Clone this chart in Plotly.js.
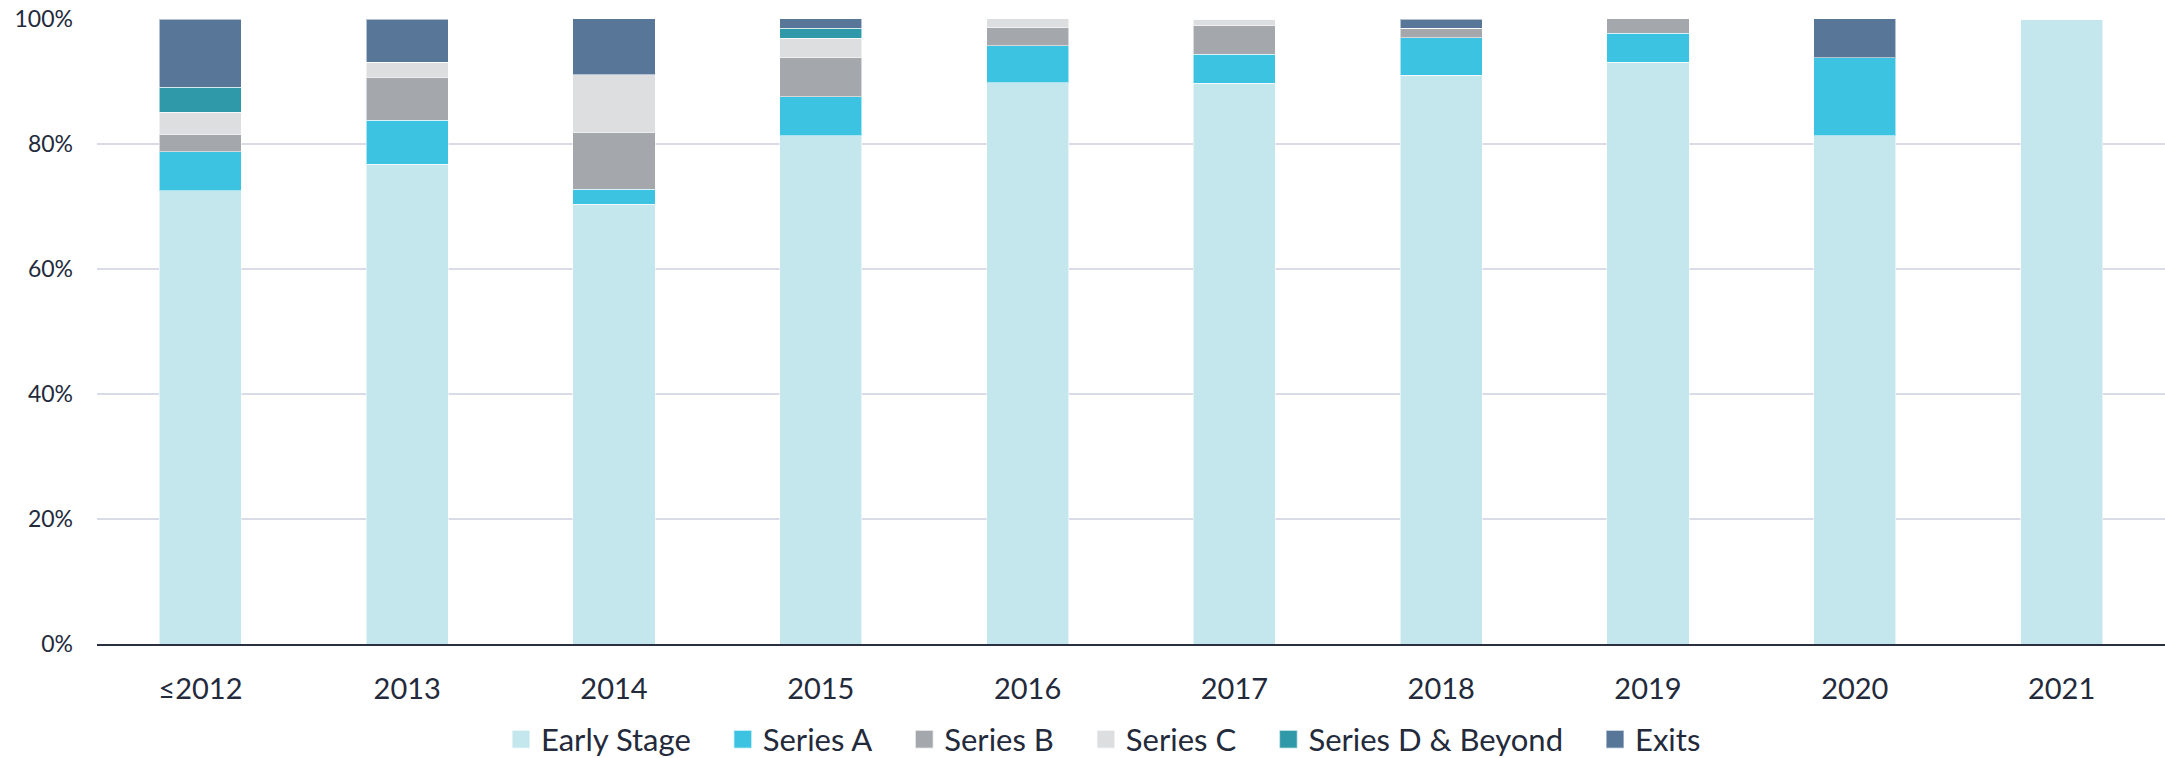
<!DOCTYPE html>
<html>
<head>
<meta charset="utf-8">
<script src="https://cdn.plot.ly/plotly-3.0.1.min.js"></script>
<style>
html,body{margin:0;padding:0;background:#fff;}
#chart{width:2165px;height:758px;}
</style>
</head>
<body>
<div id="chart"></div>
<script>
const categories = ["≤2012","2013","2014","2015","2016","2017","2018","2019","2020","2021"];
const earlyStage = [72.5, 76.8, 70.4, 81.3, 89.8, 89.7, 91.0, 93.1, 81.3, 100];
const seriesA    = [6.3, 7.0, 2.4, 6.25, 5.9, 4.7, 6.0, 4.65, 12.5, 0];
const seriesB    = [2.8, 6.9, 9.1, 6.25, 2.9, 4.5, 1.5, 2.3, 0, 0];
const seriesC    = [3.5, 2.35, 9.2, 3.15, 1.45, 1.1, 0, 0, 0, 0];
const seriesD    = [4.0, 0, 0, 1.6, 0, 0, 0, 0, 0, 0];
const exits      = [10.9, 6.9, 9.0, 1.5, 0, 0, 1.45, 0, 6.25, 0];
const yTickVals  = [0, 20, 40, 60, 80, 100];
const yTickText  = ["0%","20%","40%","60%","80%","100%"];
const seriesNames = ["Early Stage","Series A","Series B","Series C","Series D & Beyond","Exits"];
const seriesColors = ["#c3e7ed","#3cc3e2","#a4a7ab","#dddee0","#2f99a9","#587698"];
const seriesValues = [earlyStage, seriesA, seriesB, seriesC, seriesD, exits];

const traces = seriesNames.map((n, i) => ({
  type:"bar",
  name:n,
  x:categories,
  y:seriesValues[i],
  marker:{color:seriesColors[i], line:{color:"rgba(255,255,255,0.55)", width:1}},
  hoverinfo:"x+y+name"
}));

const layout = {
  width:2165, height:758,
  barmode:"stack",
  bargap:0.603,
  paper_bgcolor:"#fff", plot_bgcolor:"#fff",
  margin:{l:97, r:0, t:19, b:114, autoexpand:false},
  font:{family:"Lato, 'Open Sans', sans-serif", size:23, color:"#232a3b"},
  xaxis:{
    type:"category", automargin:false,
    showline:true, linecolor:"#2b3040", linewidth:2,
    showgrid:false, ticks:"", ticklabelstandoff:18,
    tickfont:{size:29, color:"#232a3b"}
  },
  yaxis:{
    range:[0,100], tickvals:yTickVals, ticktext:yTickText, automargin:false,
    showgrid:true, gridcolor:"#d9dce8", gridwidth:2,
    zeroline:false, showline:false, ticks:"",
    ticklabelstandoff:23,
    tickfont:{size:23, color:"#232a3b"}
  },
  showlegend:true,
  legend:{
    orientation:"h", x:0.1925, xanchor:"left", y:-0.153, yanchor:"middle",
    font:{size:31, color:"#232a3b"}, traceorder:"normal",
    itemclick:false, itemdoubleclick:false
  }
};

// legend layout tuning (pixels): first swatch left edge, swatch size, gap after each label
const LEGEND_START = 512, SWATCH_SCALE = 1.5, ITEM_GAP = 43;

Plotly.newPlot("chart", traces, layout, {displayModeBar:false, staticPlot:true}).then(() => {
  const legend = document.querySelector(".legend");
  if (!legend) return;
  legend.querySelectorAll("[clip-path]").forEach(el => el.removeAttribute("clip-path"));
  legend.querySelectorAll(".legendpoints path").forEach(p => {
    const t = p.getAttribute("transform") || "";
    p.setAttribute("transform", t + " scale(" + SWATCH_SCALE + ")");
  });
  const host = document.getElementById("chart").getBoundingClientRect();
  let cursor = LEGEND_START;
  legend.querySelectorAll(".traces").forEach(g => {
    const sw = g.querySelector(".legendpoints path");
    const r = sw.getBoundingClientRect();
    const dx = cursor - (r.left - host.left);
    const m = /translate\(\s*([-\d.e]+)[,\s]+([-\d.e]+)\s*\)/.exec(g.getAttribute("transform") || "translate(0,0)");
    const tx = m ? parseFloat(m[1]) : 0, ty = m ? parseFloat(m[2]) : 0;
    g.setAttribute("transform", "translate(" + (tx + dx) + "," + ty + ")");
    const tr = g.querySelector(".legendtext").getBoundingClientRect();
    cursor = (tr.right - host.left) + ITEM_GAP;
  });
});
</script>
</body>
</html>
